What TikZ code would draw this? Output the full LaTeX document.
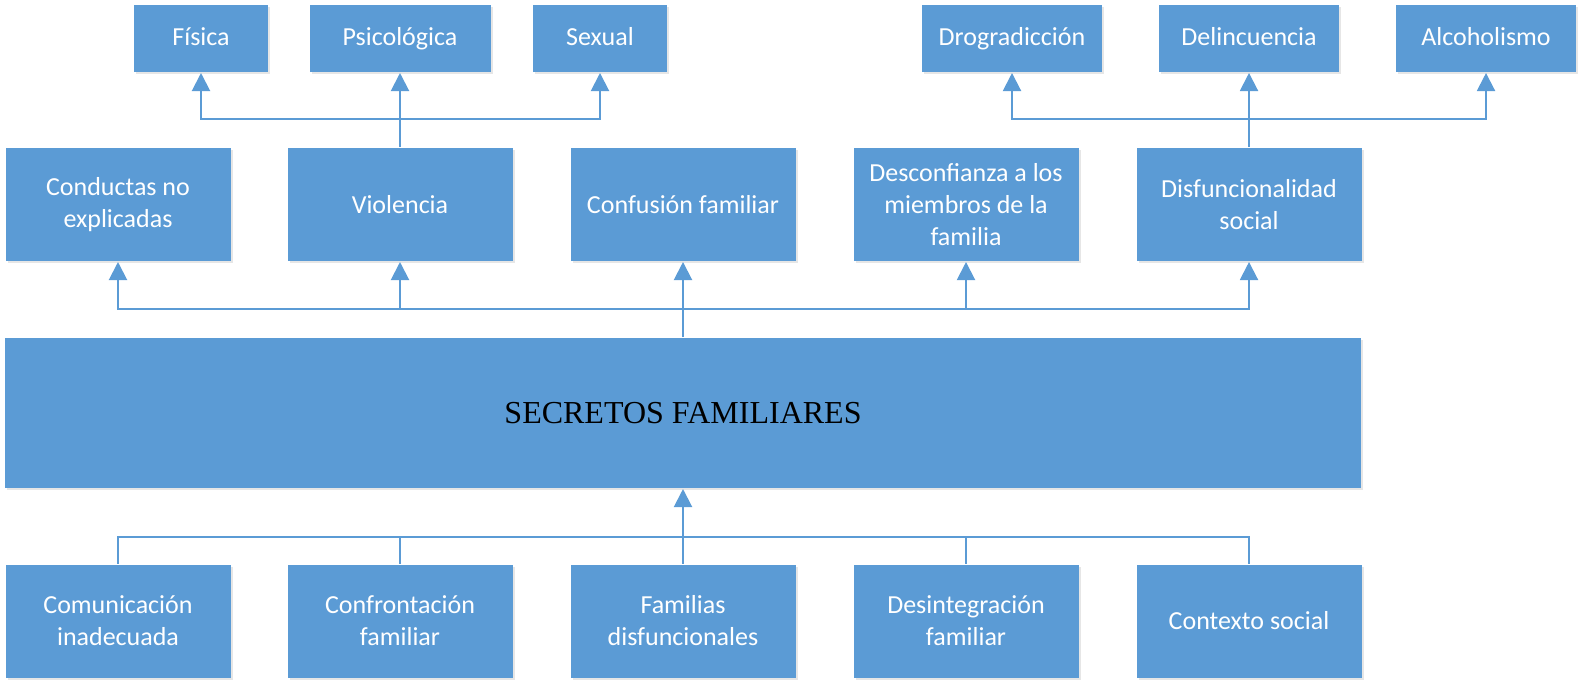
\documentclass[tikz,border=0pt]{standalone}
\usepackage{fontspec}
\setmainfont{Carlito}
\newfontfamily\tnr{Liberation Serif}
\usepackage{xcolor}
\usepackage{tikz}
\usetikzlibrary{arrows.meta, shadows}
\definecolor{boxblue}{RGB}{91,155,213}
\tikzset{box/.style={rectangle, fill=boxblue, text=white, align=center, inner sep=0pt,
		font=\fontsize{13}{16}\selectfont,
		drop shadow={opacity=0.2, shadow xshift=1.2pt, shadow yshift=-1.2pt}},
	small/.style={box, minimum height=33.5pt, text height=9.5pt, text depth=3pt},
	mid/.style={box, minimum width=112.5pt, minimum height=56.5pt},
	big/.style={box, minimum width=678pt, minimum height=75pt, text=black,
		font=\tnr\fontsize{16}{19}\selectfont}}

\begin{document}
\begin{tikzpicture}[
			> = {Triangle[length=9pt, width=9pt]}, % arrow head style
			x = 0.5pt, y = -0.5pt, % pixel grid of the picture
			boxblue, line width=1pt, % line style
		]
		\useasboundingbox (0,0) rectangle (1579,681);
		% top row
		\node[small, minimum width=67pt] (fis) at (201,38.5){Física};
		\node[small, minimum width=90.5pt] (psi) at (400,38.5){Psicológica};
		\node[small, minimum width=67pt] (sex) at (600,38.5){Sexual};
		\node[small, minimum width=90pt] (dro) at (1012,38.5){Drogradicción};
		\node[small, minimum width=90pt] (del) at (1249,38.5){Delincuencia};
		\node[small, minimum width=90pt] (alc) at (1486,38.5){Alcoholismo};
		% second row
		\node[mid] (con) at (118,204.5){Conductas no\\explicadas};
		\node[mid] (vio) at (400,204.5){Violencia};
		\node[mid] (cfu) at (683,204.5){Confusión familiar};
		\node[mid] (des) at (966,204.5){Desconfianza a los\\miembros de la\\familia};
		\node[mid] (dis) at (1249,204.5){Disfuncionalidad\\social};
		% main box
		\node[big] (sec) at (683,413){SECRETOS FAMILIARES};
		% bottom row
		\node[mid] (com) at (118,621){Comunicación\\inadecuada};
		\node[mid] (cfr) at (400,621){Confrontación\\familiar};
		\node[mid] (fam) at (683,621){Familias\\disfuncionales};
		\node[mid] (din) at (966,621){Desintegración\\familiar};
		\node[mid] (ctx) at (1249,621){Contexto social};
		% junctions
		\coordinate (j1) at (400,119);
		\coordinate (j2) at (1249,119);
		\coordinate (j3) at (683,309);
		\coordinate (j4) at (683,537);
		\draw (vio) to (j1);
		\draw[->] (j1) -| (fis);
		\draw[->] (j1) to (psi);
		\draw[->] (j1) -| (sex);
		\draw (dis) to (j2);
		\draw[->] (j2) -| (dro);
		\draw[->] (j2) to (del);
		\draw[->] (j2) -| (alc);
		\draw (sec) to (j3);
		\draw[->] (j3) -| (con);
		\draw[->] (j3) -| (vio);
		\draw[->] (j3) to (cfu);
		\draw[->] (j3) -| (des);
		\draw[->] (j3) -| (dis);
		\draw (com) |- (j4);
		\draw (cfr) |- (j4);
		\draw (fam) to (j4);
		\draw (din) |- (j4);
		\draw (ctx) |- (j4);
		\draw[->] (j4) to (sec);
		\end{tikzpicture}
\end{document}
